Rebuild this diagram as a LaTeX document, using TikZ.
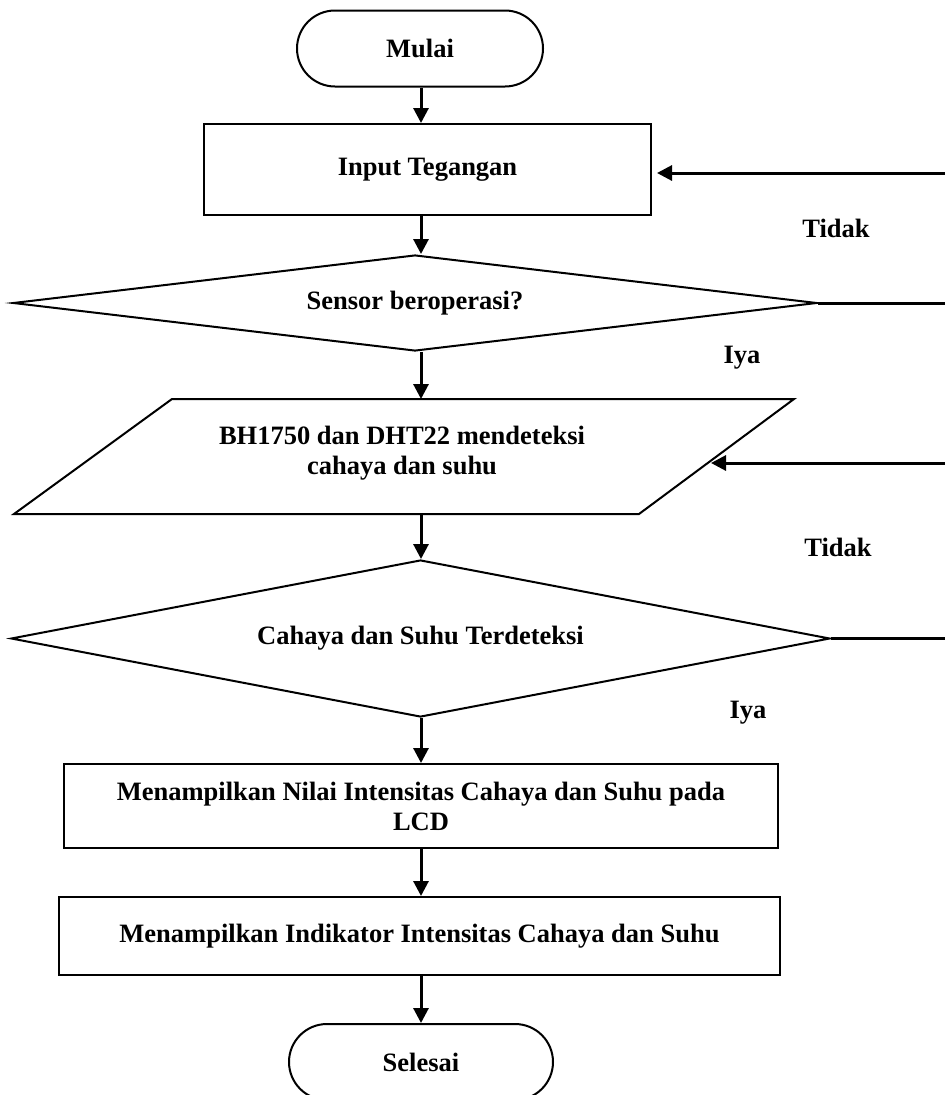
\documentclass[tikz,border=0pt]{standalone}
\usepackage{fontspec}
\setmainfont{Liberation Serif}
\usetikzlibrary{shapes.geometric,shapes.misc,arrows.meta}
\begin{document}
\begin{tikzpicture}[x=1pt,y=-1pt,
  every node/.style={font=\fontsize{26.5}{30}\selectfont\bfseries, align=center},
  term/.style={draw, line width=2pt, rounded rectangle, minimum height=76pt, inner sep=0pt},
  proc/.style={draw, line width=2pt, rectangle, inner sep=0pt},
  dec/.style={draw, line width=2pt, diamond, inner sep=0pt},
  conn/.style={line width=3pt},
  arr/.style={conn, -{Triangle[length=15pt,width=15pt]}}
]
\useasboundingbox (0,0) rectangle (945,1095);
\clip (0,0) rectangle (945,1095);

% shapes
\node[term, minimum width=246pt] (mulai) at (420,48.5) {Mulai};
\node[proc, minimum width=447pt, minimum height=91pt] (input) at (427.5,169.5) {Input Tegangan};
\node[dec, aspect=8.4, minimum width=804pt, minimum height=96pt] (d1) at (415,303) {Sensor beroperasi?};

\coordinate (pTL) at (172,399);
\coordinate (pTR) at (794,399);
\coordinate (pBR) at (639,514);
\coordinate (pBL) at (14,514);
\draw[line width=2pt, line join=miter] (pTL) -- (pTR) -- (pBR) -- (pBL) -- cycle;
\node (para) at (402,453) {BH1750 dan DHT22 mendeteksi\\cahaya dan suhu};

\node[dec, aspect=5.2, minimum width=819pt, minimum height=157pt] (d2) at (420.5,638.5) {Cahaya dan Suhu Terdeteksi};
\node[proc, minimum width=714pt, minimum height=84pt] (r3) at (421,806) {Menampilkan Nilai Intensitas Cahaya dan Suhu pada\\LCD};
\node[proc, minimum width=721pt, minimum height=78pt] (r4) at (419.5,936) {Menampilkan Indikator Intensitas Cahaya dan Suhu};
\node[term, minimum width=264pt] (selesai) at (421,1062) {Selesai};

% labels
\node (tidak1) at (836,228) {Tidak};
\node (iya1) at (742,358) {Iya};
\node (tidak2) at (838,547) {Tidak};
\node (iya2) at (748,713) {Iya};

% main column connectors
\coordinate (col) at (421,0);
\draw[arr] (col |- mulai.south) -- (col |- input.north);
\draw[arr] (col |- input.south) -- (col |- d1.north);
\draw[arr] (col |- d1.south) -- (col |- pTL);
\draw[arr] (col |- pBL) -- (col |- d2.north);
\draw[arr] (col |- d2.south) -- (col |- r3.north);
\draw[arr] (col |- r3.south) -- (col |- r4.north);
\draw[arr] (col |- r4.south) -- (col |- selesai.north);

% right-hand loop lines
\coordinate (e1) at (945,173);
\draw[arr, shorten >=5pt] (e1) -- (e1 -| input.east);
\coordinate (e2) at (945,303);
\draw[conn] (d1.east) -- (e2);
\coordinate (e3) at (945,463);
\coordinate (pin) at (711,463);
\draw[arr] (e3) -- (pin);
\coordinate (e4) at (945,638.5);
\draw[conn] (d2.east) -- (e4);
\end{tikzpicture}
\end{document}
